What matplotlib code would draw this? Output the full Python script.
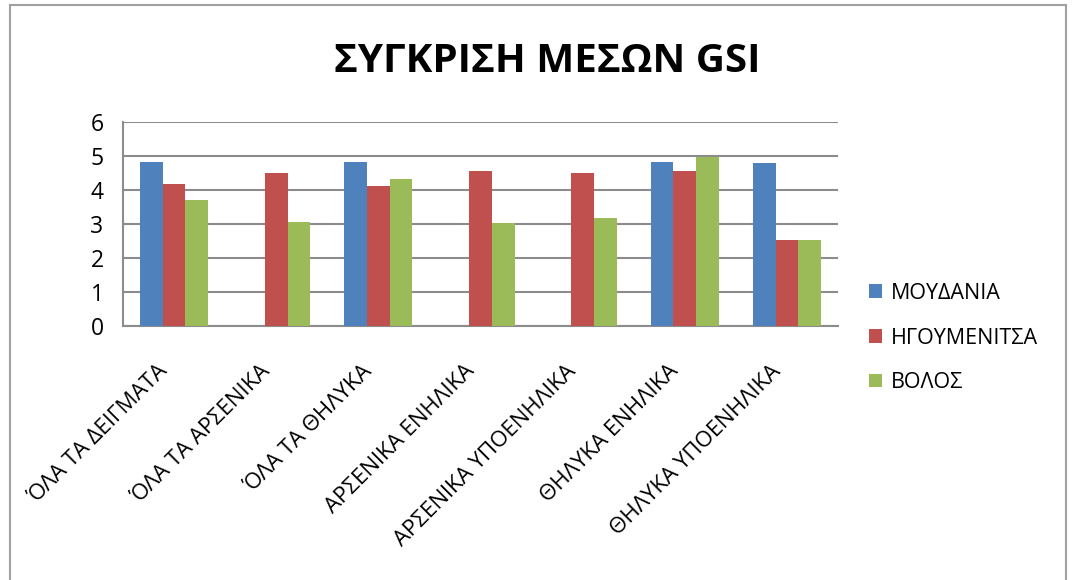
import numpy as np
import matplotlib.pyplot as plt
import matplotlib.transforms as mtransforms
from matplotlib.patches import Rectangle

plt.rcParams['font.family'] = ['Open Sans', 'DejaVu Sans']

categories = ['ΌΛΑ ΤΑ ΔΕΙΓΜΑΤΑ', 'ΌΛΑ ΤΑ ΑΡΣΕΝΙΚΑ', 'ΌΛΑ ΤΑ ΘΗΛΥΚΑ', 'ΑΡΣΕΝΙΚΑ ΕΝΗΛΙΚΑ',
              'ΑΡΣΕΝΙΚΑ ΥΠΟΕΝΗΛΙΚΑ', 'ΘΗΛΥΚΑ ΕΝΗΛΙΚΑ', 'ΘΗΛΥΚΑ ΥΠΟΕΝΗΛΙΚΑ']
moudania = [4.83, np.nan, 4.83, np.nan, np.nan, 4.83, 4.80]
igoumenitsa = [4.17, 4.51, 4.11, 4.57, 4.50, 4.57, 2.53]
volos = [3.70, 3.05, 4.33, 3.03, 3.17, 4.98, 2.53]
series_names = ['ΜΟΥΔΑΝΙΑ', 'ΗΓΟΥΜΕΝΙΤΣΑ', 'ΒΟΛΟΣ']
colors = ['#4f81bd', '#c0504d', '#9bbb59']

fig = plt.figure(figsize=(10.76, 5.8), dpi=100)
ax = fig.add_axes([123 / 1076, 1 - 326 / 580, 715 / 1076, 204 / 580])

x = np.arange(len(categories))
w = 1 / 4.5
for i, (vals, name, c) in enumerate(zip([moudania, igoumenitsa, volos], series_names, colors)):
    ax.bar(x + (i - 1) * w, vals, w, color=c, label=name, zorder=3)

ax.set_xlim(-0.5, len(categories) - 0.5)
ax.set_ylim(0, 6)
ax.set_yticks(range(0, 7))
ax.yaxis.grid(True, color='#8c8c8c', linewidth=1.5, zorder=0)
for s in ['top', 'right']:
    ax.spines[s].set_visible(False)
for s in ['left', 'bottom']:
    ax.spines[s].set_color('#8c8c8c')
    ax.spines[s].set_linewidth(1.5)
ax.tick_params(axis='y', length=0, labelsize=16.5, pad=14)
ax.tick_params(axis='x', length=0, labelsize=16, pad=25)
ax.set_xticks(x)
ax.set_xticklabels(categories, rotation=45, ha='right', va='top', rotation_mode='anchor')
# nudge labels left so their ends sit under the category centre
shift = mtransforms.ScaledTranslation(-0.17, 0, fig.dpi_scale_trans)
for lbl in ax.get_xticklabels():
    lbl.set_transform(lbl.get_transform() + shift)

fig.text(547 / 1076, 1 - 62 / 580, 'ΣΥΓΚΡΙΣΗ ΜΕΣΩΝ GSI', ha='center', va='center',
         fontsize=29, fontweight='bold')

ax.legend(loc='center left', bbox_to_anchor=(850 / 1076, 1 - 338 / 580), bbox_transform=fig.transFigure,
          frameon=False, fontsize=15.5, handlelength=0.6, handleheight=0.6, labelspacing=1.1,
          handletextpad=0.4)

fig.patches.append(Rectangle((10 / 1076, -0.01), 1056 / 1076, 1 - 5 / 580 + 0.01, transform=fig.transFigure,
                             fill=False, edgecolor='#a0a0a0', linewidth=1.5))

fig.savefig('out.png', dpi=100)
